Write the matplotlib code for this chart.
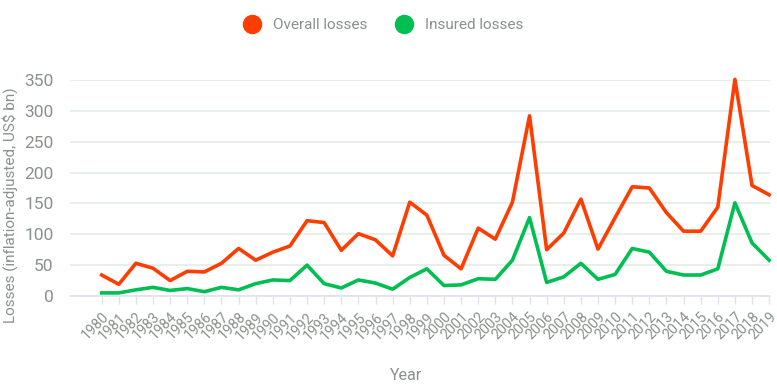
import matplotlib
matplotlib.use("Agg")
import matplotlib.pyplot as plt
from matplotlib.lines import Line2D

plt.rcParams['font.family'] = ['Roboto', 'DejaVu Sans']

years = list(range(1980, 2020))

# Overall losses (inflation-adjusted, US$ bn)
overall = [34, 19, 53, 45, 25, 40, 39, 53, 77, 58,
           71, 81, 122, 119, 74, 101, 91, 65, 152, 131,
           66, 44, 110, 92, 152, 292, 75, 102, 157, 76,
           127, 177, 175, 135, 105, 105, 144, 351, 179, 164]

# Insured losses (inflation-adjusted, US$ bn)
insured = [5, 5, 10, 14, 9, 12, 7, 14, 10, 20,
           26, 25, 50, 20, 13, 26, 21, 11, 30, 44,
           17, 18, 28, 27, 58, 127, 22, 31, 53, 27,
           35, 77, 71, 40, 34, 34, 44, 151, 86, 58]

series_labels = ['Overall losses', 'Insured losses']
series_colors = ['#FF3D00', '#00BF52']

TEXT = '#8a918c'

fig = plt.figure(figsize=(7.77, 3.88), dpi=100)
ax = fig.add_axes([70 / 777, 1 - 296 / 388, 700 / 777, 216 / 388])

ax.plot(years, overall, color=series_colors[0], lw=2.6, clip_on=False)
ax.plot(years, insured, color=series_colors[1], lw=2.6, clip_on=False)

ax.set_ylim(0, 350)
ax.set_xlim(1978.15, 2019.05)
ax.set_yticks(range(0, 351, 50))
ax.set_xticks(years)
ax.set_xticklabels([str(y) for y in years], rotation=45, ha='right',
                   rotation_mode='anchor', fontsize=10.3, color=TEXT)
ax.tick_params(axis='y', length=0, labelsize=12.5, labelcolor=TEXT, pad=12)
ax.tick_params(axis='x', length=6, width=1, color='#e4def0', pad=4)

ax.grid(axis='y', color='#e2eee4', lw=1.2)
ax.set_axisbelow(True)
for s in ['top', 'right', 'left']:
    ax.spines[s].set_visible(False)
ax.spines['bottom'].set_color('#e4def0')
ax.spines['bottom'].set_linewidth(1.2)

ax.set_ylabel('Losses (inflation-adjusted, US$ bn)', color=TEXT, fontsize=11)
ax.yaxis.set_label_coords(-52 / 700, 0.42)
ax.set_xlabel('Year', color=TEXT, fontsize=11.5)
ax.xaxis.set_label_coords(336 / 700, -72 / 216)

handles = [Line2D([], [], marker='o', ls='none', markersize=13,
                  markerfacecolor=c, markeredgecolor=c) for c in series_colors]
fig.legend(handles, series_labels, loc='center', ncol=2, frameon=False,
           bbox_to_anchor=(380 / 777, 1 - 25 / 388), fontsize=11,
           labelcolor=TEXT, handletextpad=0.35, columnspacing=1.4)

fig.savefig('out.png', dpi=100)
